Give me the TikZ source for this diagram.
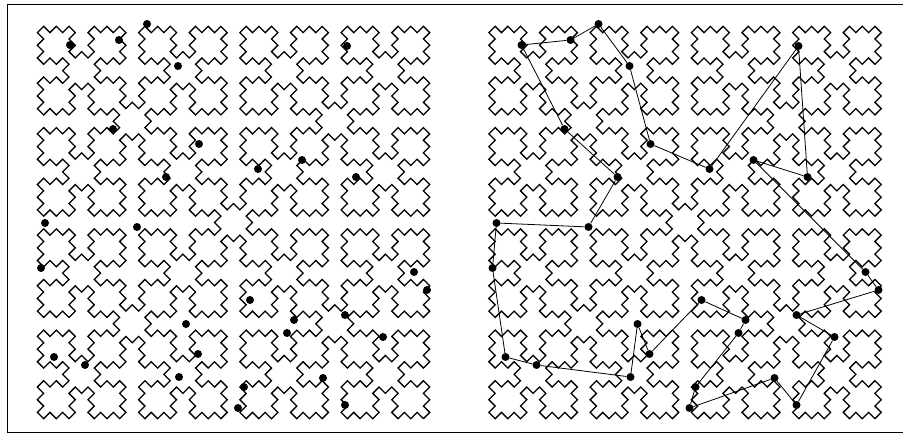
\documentclass[tikz,border=0pt]{standalone}
\usetikzlibrary{lindenmayersystems}
\pgfdeclarelindenmayersystem{Sierpinski square}{
  \rule{X -> XF-F+F-XF+F+XF-F+F-X}
}
\tikzset{
  curve/.style={line width=1.3pt, line join=miter,
    lindenmayer system={Sierpinski square, axiom=F+XF+F+XF, order=4, step=8.95pt, angle=90}},
  dot/.style={circle, fill=black, inner sep=0pt, minimum size=8pt},
  tour/.style={line width=0.8pt},
  frame/.style={line width=1pt}
}
\begin{document}
\begin{tikzpicture}[x=1pt,y=-1pt]
\useasboundingbox (0,0) rectangle (903,435);
\draw[frame] (7,5) rectangle (903.5,433);
% left curve: centre (233.5,222.5), unit 6.33
\begin{scope}[shift={(233.5+189.9,222.5+196.2)}, rotate=45]
  \draw[curve] (0,0) lindenmayer system;
\end{scope}
\begin{scope}[shift={(685+189.9,222.5+196.2)}, rotate=45]
  \draw[curve] (0,0) lindenmayer system;
\end{scope}
% dots
\foreach \n/\x/\y in {1/70/45,2/119/40,3/147/24,4/178/66,5/347/46,6/113/129,7/199/144,8/166/177,9/258/169,10/302/160,11/356/177,12/45/223,13/137/227,14/41/268,15/414/272,16/427/290,17/250/300,18/345/315,19/186/324,20/294/320,21/287/333,22/383/337,23/198/354,24/54/357,25/85/365,26/179/377,27/244/387,28/323/378,29/238/408,30/345/405}{
  \node[dot] (p\n) at (\x,\y) {};
  \node[dot] (q\n) at (\x+451.5,\y) {};
}
\draw[tour] (q1)--(q2)--(q3)--(q4)--(q7)--(q9)--(q5)--(q11)--(q10)--(q15)--(q16)--(q18)--(q22)--(q30)--(q28)--(q29)--(q27)--(q21)--(q20)--(q17)--(q23)--(q19)--(q26)--(q25)--(q24)--(q14)--(q12)--(q13)--(q8)--(q6)--(q1);
\end{tikzpicture}
\end{document}
